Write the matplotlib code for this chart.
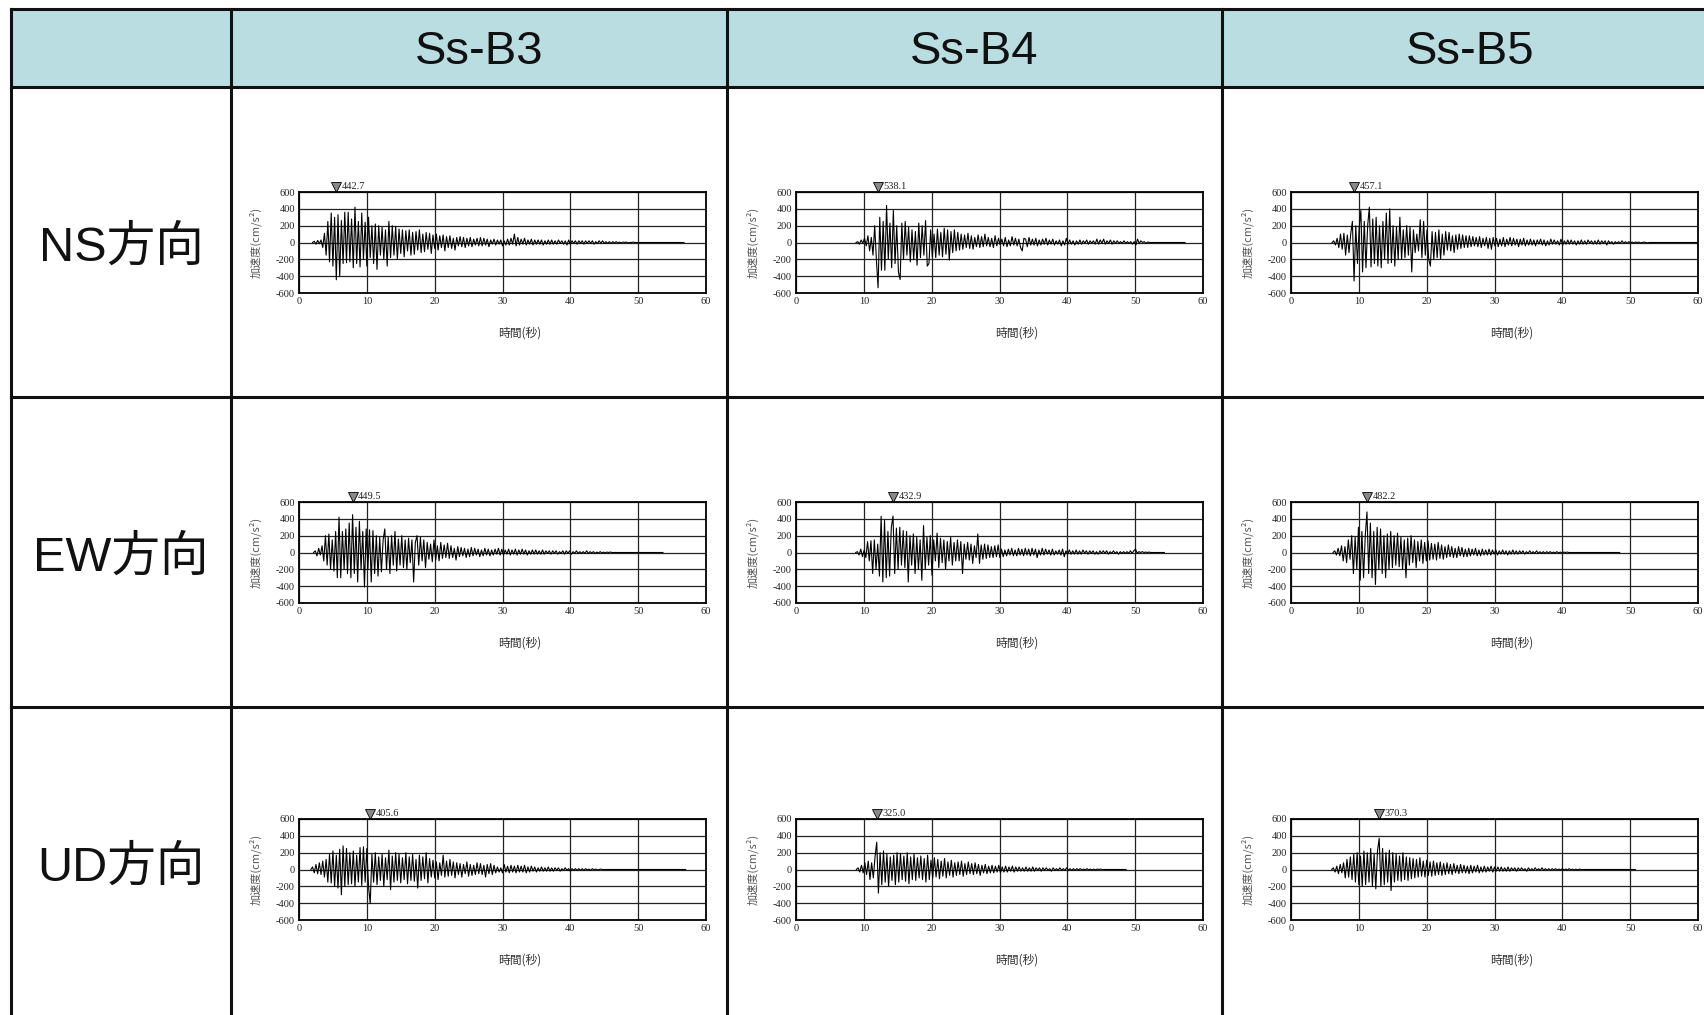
import matplotlib.pyplot as plt
import numpy as np
from matplotlib.patches import Rectangle
from matplotlib.transforms import blended_transform_factory

plt.rcParams['axes.unicode_minus'] = False

W, H = 1704, 1015
DT = 0.25  # sample step of the traced records (s)

cases = ["Ss-B3", "Ss-B4", "Ss-B5"]
directions = ["NS方向", "EW方向", "UD方向"]
xticks = [0, 10, 20, 30, 40, 50, 60]
yticks = [600, 400, 200, 0, -200, -400, -600]

# start time of each record (s), by direction then case
t0 = {
    "NS": [2.0, 8.85, 6.05],
    "EW": [2.15, 8.8, 6.2],
    "UD": [1.75, 8.9, 6.0],
}

# acceleration (cm/s2), one value every DT seconds
ns_b3 = [
    0, 15, -20, 25, -15, 30, -60, 110, -150, 250, -230, 350, -280, 300, -442.7, 330, -400, 260, -250, 360,
    -240, 360, -230, 280, -300, 420, -250, 250, -290, 350, -200, 240, -280, 300, -180, 200, -250, 220, -320, 200,
    -150, 180, -200, 150, -280, 250, -180, 200, -150, 190, -200, 160, -130, 150, -170, 140, -100, 150, -150, 120,
    -140, 130, -90, 150, -120, 100, -110, 120, -80, 110, -130, 90, -70, 100, -90, 80, -60, 90, -100, 70,
    -60, 80, -70, 50, -90, 60, -40, 70, -50, 60, -60, 50, -40, 60, -50, 40, -30, 50, -40, 60,
    -40, 50, -30, 40, -50, 30, -20, 40, -30, 30, -20, 30, -40, 20, -30, 40, -30, 50, -20, 100,
    -40, 60, -30, 40, -20, 50, -30, 30, -20, 40, -30, 30, -20, 30, -20, 30, -30, 20, -20, 30,
    -20, 30, -20, 20, -20, 30, -10, 20, -20, 20, -30, 30, -20, 20, -10, 20, -20, 20, -10, 20,
    -20, 20, -10, 20, -10, 20, -20, 10, -10, 20, -10, 20, -10, 10, -10, 10, -10, 10, -5, 10,
    -5, 5, -5, 5, 0, 5, -5, 0, 0, 5, 0, 0, 0, 0, 0, 0, 0, 0, 0, 0,
    0, 0, 0, 0, 0, 0, 0, 0, 0, 0, 0, 0, 0, 0, 0, 0, 0, 0, 0, 0,
]
ns_b4 = [
    0, 10, -20, 30, -10, 50, -40, 80, -100, 60, -150, 200, -200, -538.1, 300, -330, 250, -330, 440, -200,
    230, -300, 380, -250, 200, -350, -440, 230, -200, 250, -150, 180, -230, 150, -200, 130, -270, 230, -180, 200,
    -150, 260, -280, -250, 150, -170, 100, -180, 160, -150, 120, -170, 170, -140, 150, -210, 130, -120, 150, -100,
    120, -90, 100, -80, 90, -60, 110, -70, 80, -80, 60, -50, 90, -60, 70, -50, 100, -40, 60, -50,
    50, -60, 80, -40, 50, -30, 40, -40, 60, -50, 30, -40, 70, -30, 50, -40, 40, -60, -100, 50,
    40, -50, 60, -30, 40, -30, 50, -40, 30, -30, 40, -20, 50, -30, 30, -20, 40, -30, 20, -20,
    30, -40, 20, -30, 50, -20, 30, -20, 20, -30, 20, -20, 30, -20, 20, -10, 30, -20, 20, -10,
    20, -20, 40, -20, 30, -10, 40, -20, 20, -10, 30, -20, 20, -10, 20, -10, 10, -10, 20, -10,
    10, -10, 10, -20, 10, -30, 40, -10, 20, 0, 10, -10, 5, 0, 0, 0, 0, 0, 0, 0,
    0, 0, 0, 0, 0, 0, 0, 0, 0, 0, 0, 0, 0, 0, 0,
]
ns_b5 = [
    0, 20, -30, 50, -60, 100, -80, 110, -150, 90, -120, 100, 250, -457.1, 200, -250, 180, 380, -350, 250,
    -300, 200, 420, -290, 280, -250, 300, -280, 200, -300, 250, -200, 350, -250, 400, -240, 200, -280, 180, -200,
    300, -200, 150, -180, 200, -150, 180, -350, 150, -120, 100, -100, 270, -180, 250, -150, 150, -200, -280, 130,
    -200, 120, -180, 150, -200, 100, -150, 130, -90, 120, -100, 80, -120, 90, -80, 100, -70, 90, -60, 80,
    -60, 80, -50, 70, -40, 60, -50, 70, -60, 50, -40, 60, -70, 50, -80, 60, -40, 50, -50, 40,
    -40, 60, -50, 40, -30, 60, -40, 50, -30, 40, -50, 40, -30, 50, -40, 30, -30, 40, -30, 30,
    -40, 30, -20, 40, -30, 30, -40, 20, -30, 40, -20, 30, -20, 20, -30, 40, -30, 20, -20, 30,
    -20, 30, -20, 20, -30, 20, -20, 30, -20, 20, -20, 30, -10, 20, -20, 20, -20, 30, -20, 20,
    -10, 20, -30, 20, -10, 10, -20, 10, -10, 10, -10, 20, -10, 10, -10, 10, -5, 5, -5, 5,
    0, 5, -5, 0, 5, 0, -5, 0, 0, 0, 0, 0, 0, 0, 0, 0, 0, 0, 0, 0,
    0, 0, 0, 0, 0, 0, 0, 0, 0, 0, 0, 0, 0, 0, 0, 0, 0, 0, 0, 0,
]
ew_b3 = [
    0, 20, -40, 50, -30, 80, -100, 200, -150, 220, -200, 150, -220, 250, -300, 420, -300, 250, -200, 280,
    -250, 350, -300, 449.5, -250, 300, -350, 370, -200, 250, -410, 280, -200, 270, -350, 260, -250, 200, -280, 180,
    -230, 150, 280, -200, 180, -250, 200, -150, 250, -220, 160, -150, 200, -180, 150, -200, 170, -120, 150, -350,
    120, 200, -150, 180, -100, 150, -180, 120, -80, 100, -110, 150, -90, 80, -100, 120, -70, 90, -60, 110,
    -70, 80, -60, 50, -90, 70, -50, 60, -40, 50, -60, 40, -50, 60, -40, 50, -30, 40, -50, 30,
    -40, 50, -30, 40, -40, 30, -30, 40, -20, 50, -30, 40, -30, 30, -20, 40, -30, 30, -20, 40,
    -30, 30, -20, 40, -20, 30, -30, 20, -20, 30, -20, 30, -20, 20, -20, 30, -20, 20, -10, 20,
    -20, 20, -10, 20, -20, 10, -10, 20, -20, 20, -10, 20, -20, 10, -10, 20, -10, 10, -10, 10,
    -10, 20, -10, 10, -5, 10, -10, 5, -5, 10, -5, 5, -5, 5, 0, 5, 0, 0, 0, 0,
    0, 0, 0, 0, 0, 0, 0, 0, 0, 0, 0, 0, 0, 0, 0, 0, 0, 0, 0, 0,
    0, 0, 0, 0, 0, 0, 0,
]
ew_b4 = [
    0, 10, -30, 40, -50, 30, -60, 130, -100, 140, -250, 150, -200, 100, -280, 430, -350, 380, -300, 250,
    -280, 300, 432.9, -250, 290, -200, 300, -150, 260, -180, 250, -350, 200, -150, 220, -250, 180, -200, 150, -330,
    320, -200, 180, -150, 200, -270, 150, -100, 230, -180, 170, -120, 150, -200, 130, -100, 180, -150, 120, -100,
    150, -100, 130, -250, 100, -80, 120, -90, 100, -130, 80, -60, 220, -130, 90, -80, 100, -70, 90, -60,
    70, -60, 80, -50, 90, -60, 40, -50, 30, -40, 40, -30, 50, -40, 30, -40, 50, -30, 40, -40,
    50, -30, 40, -40, 50, -30, 40, -60, 30, -30, 50, -30, 40, -20, 30, -30, 40, -30, 20, -20,
    30, -30, 40, -50, 20, -20, 30, -20, 20, -20, 30, -20, 20, -20, 30, -10, 20, -20, 20, -10,
    20, -20, 10, -20, 20, -10, 20, -10, 20, -20, 10, -10, 20, -10, 10, -20, 10, -10, 10, -10,
    10, -10, 20, -10, 20, 40, -10, 10, 0, 10, 0, 5, 0, 5, 0, 0, 0, 0, 0, 0,
    0, 0, 0,
]
ew_b5 = [
    0, 20, -30, 50, -40, 80, -100, 70, -120, 150, -80, 200, -250, 180, -200, 300, -330, 250, -300, 200,
    482.2, -250, 350, -300, 250, -380, 300, -200, 280, -250, 200, -300, 220, -200, 250, -180, 200, -150, 230, -170,
    180, -200, 150, -300, 170, -150, 200, -120, 150, -180, 130, -100, 150, -130, 120, -100, 140, -90, 110, -80,
    100, -90, 120, -70, 90, -80, 70, -60, 90, -50, 70, -60, 50, -60, 70, -40, 60, -50, 40, -50,
    50, -40, 40, -30, 50, -40, 30, -40, 40, -30, 30, -30, 40, -30, 30, -20, 30, -30, 20, -20,
    30, -20, 20, -30, 20, -20, 30, -20, 20, -20, 20, -10, 20, -20, 10, -10, 20, -10, 10, -10,
    20, -10, 10, -10, 10, -10, 10, -5, 10, -5, 5, -5, 10, -5, 5, -5, 5, 0, 5, 0,
    0, 0, 0, 0, 0, 0, 0, 0, 0, 0, 0, 0, 0, 0, 0, 0, 0, 0, 0, 0,
    0, 0, 0, 0, 0, 0, 0, 0, 0, 0,
]
ud_b3 = [
    0, 30, -40, 60, -50, 80, -60, 100, -90, 120, -150, 180, -160, 220, -200, 170, -220, 240, -300, 280,
    -200, 250, -180, 200, -170, 220, -200, 170, -150, 260, -190, 270, -150, 250, -200, -405.6, 180, -150, 200, -180,
    150, -130, 180, -200, 140, -120, 230, -240, 160, -150, 200, -130, 180, -160, 140, -120, 200, -170, 150, -130,
    180, -140, 120, -220, 170, -130, 150, -110, 200, -160, 130, -90, 110, -100, 90, -120, 80, -70, 170, -90,
    100, -80, 120, -70, 90, -100, 80, -60, 70, -90, 60, -50, 90, -80, 60, -70, 50, -60, 80, -50,
    70, -60, 50, -90, 60, -50, 70, -60, 50, -40, 30, -30, 20, -40, 60, -30, 40, -40, 50, -30,
    40, -40, 50, -30, 40, -30, 50, -40, 30, -30, 40, -20, 30, -30, 20, -20, 30, -20, 20, -20,
    30, -20, 20, -20, 20, -10, 20, -20, 10, -10, 20, -10, 10, -20, 10, -10, 10, -10, 10, -10,
    10, -10, 10, -5, 5, -10, 10, -5, 5, -5, 0, 5, 0, 0, 0, 0, 0, 0, 0, 0,
    0, 0, 0, 0, 0, 0, 0, 0, 0, 0, 0, 0, 0, 0, 0, 0, 0, 0, 0, 0,
    0, 0, 0, 0, 0, 0, 0, 0, 0, 0, 0, 0, 0, 0, 0, 0, 0, 0, 0, 0,
    0, 0,
]
ud_b4 = [
    0, 20, -30, 50, -40, 80, -60, 100, -120, 80, -100, 150, 325.0, -280, 200, -180, 220, -150, 180, -200,
    150, -130, 170, -180, 200, -150, 190, -120, 160, -140, 200, -170, 150, -120, 180, -130, 140, -100, 160, -120,
    130, -150, 170, -120, 110, -100, 140, -90, 120, -110, 100, -80, 130, -100, 90, -70, 110, -90, 80, -70,
    90, -60, 100, -80, 70, -60, 90, -50, 70, -60, 80, -50, 60, -70, 50, -40, 60, -50, 40, -40,
    50, -40, 40, -30, 50, -40, 30, -30, 40, -30, 30, -20, 40, -30, 30, -20, 30, -20, 20, -20,
    30, -20, 20, -20, 30, -20, 20, -10, 20, -20, 20, -10, 20, -10, 10, -20, 20, -10, 10, -10,
    20, -10, 10, -10, 20, -10, 10, -10, 10, -10, 10, -5, 10, -5, 5, -5, 10, -5, 5, -5,
    5, -5, 5, 0, 5, 0, 0, 0, 0, 0, 0, 0, 0, 0, 0, 0, 0, 0, 0, 0,
]
ud_b5 = [
    0, 20, -30, 40, -50, 60, -40, 80, -100, 120, -90, 150, -120, 180, -150, 200, -180, 160, -200, 220,
    -180, 200, -150, 250, -200, 180, -230, 220, 370.3, -200, 250, -180, 200, -150, 230, -250, 200, -150, 180, -130,
    160, -140, 200, -120, 150, -130, 140, -110, 130, -100, 120, -90, 140, -80, 100, -90, 110, -70, 90, -80,
    100, -70, 80, -60, 90, -70, 70, -60, 80, -50, 60, -60, 70, -40, 50, -50, 60, -40, 50, -40,
    40, -50, 50, -40, 40, -30, 50, -40, 30, -30, 40, -30, 30, -20, 40, -30, 30, -20, 30, -20,
    30, -20, 20, -20, 30, -20, 20, -10, 20, -20, 20, -10, 20, -10, 10, -20, 20, -10, 10, -10,
    20, -10, 10, -10, 20, -10, 10, -10, 10, -10, 10, -5, 10, -5, 5, -5, 10, -5, 5, -5,
    10, -5, 5, -5, 5, -5, 5, 0, 0, 0, 0, 0, 0, 0, 0, 0, 0, 0, 0, 0,
    0, 0, 0, 0, 0, 0, 0, 0, 0, 0, 0, 0, 0, 0, 0, 0, 0, 0, 0, 0,
]

records = {
    "NS": [ns_b3, ns_b4, ns_b5],
    "EW": [ew_b3, ew_b4, ew_b5],
    "UD": [ud_b3, ud_b4, ud_b5],
}

# table layout, in pixels
tbl_left, tbl_right = 11, 1718
col_edges = [11, 231, 727, 1222, 1718]
row_edges = [9, 87, 397, 707, 1017]
header_color = "#badde2"

# plot area of each cell, in pixels
ax_left = [299, 796, 1291]
ax_top = [192, 502, 819]
ax_w, ax_h = 407, 101

fig = plt.figure(figsize=(W / 100, H / 100), dpi=100)

bg = fig.add_axes([0, 0, 1, 1])
bg.set_xlim(0, W)
bg.set_ylim(H, 0)
bg.axis("off")
bg.add_patch(Rectangle((tbl_left, row_edges[0]), tbl_right - tbl_left,
                       row_edges[1] - row_edges[0], facecolor=header_color, edgecolor="none"))
for y in row_edges:
    bg.plot([tbl_left, tbl_right], [y, y], color="#111111", lw=2.2, solid_capstyle="projecting")
for x in col_edges:
    bg.plot([x, x], [row_edges[0], row_edges[-1]], color="#111111", lw=2.2, solid_capstyle="projecting")

for j, case in enumerate(cases):
    cx = (col_edges[j + 1] + col_edges[j + 2]) / 2
    cy = (row_edges[0] + row_edges[1]) / 2 + 4
    bg.text(cx, cy, case, ha="center", va="center", fontsize=34,
            family=["Liberation Sans", "Noto Sans CJK JP"], color="#111111")

for i, d in enumerate(directions):
    cx = (col_edges[0] + col_edges[1]) / 2
    cy = (row_edges[i + 1] + row_edges[i + 2]) / 2 + 6
    bg.text(cx, cy, d, ha="center", va="center", fontsize=35,
            family=["Liberation Sans", "Noto Sans CJK JP"], color="#111111")

serif = ["Liberation Serif", "Noto Sans CJK JP"]
cjk = ["Noto Sans CJK JP", "DejaVu Sans"]

for i, key in enumerate(["NS", "EW", "UD"]):
    for j in range(3):
        vals = np.array(records[key][j], dtype=float)
        t = t0[key][j] + DT * np.arange(len(vals))

        ax = fig.add_axes([ax_left[j] / W, 1 - (ax_top[i] + ax_h) / H, ax_w / W, ax_h / H])
        ax.plot(t, vals, color="black", lw=0.8)
        ax.set_xlim(0, 60)
        ax.set_ylim(-600, 600)
        ax.set_xticks(xticks)
        ax.set_yticks(yticks)
        ax.set_xticklabels([str(v) for v in xticks], family=serif, fontsize=7.5, color="#222222")
        ax.set_yticklabels([str(v) for v in yticks], family=serif, fontsize=7.5, color="#222222")
        ax.tick_params(length=0, pad=3)
        ax.grid(True, color="#222222", lw=0.9)
        ax.set_axisbelow(True)
        for s in ax.spines.values():
            s.set_linewidth(1.3)
            s.set_color("black")

        ax.text(-0.108, 0.5, "加速度(cm/s²)", rotation=90, ha="center", va="center",
                transform=ax.transAxes, fontsize=8, color="#555555", family=cjk)
        ax.text(0.543, -0.40, "時間(秒)", ha="center", va="center",
                transform=ax.transAxes, fontsize=8.5, color="#333333", family=cjk)

        k = int(np.argmax(np.abs(vals)))
        peak_t, peak_v = t[k], abs(vals[k])
        trans = blended_transform_factory(ax.transData, ax.transAxes)
        ax.plot([peak_t], [1.05], marker="v", markersize=6.5, color="#888888",
                markeredgecolor="black", markeredgewidth=0.6, transform=trans, clip_on=False)
        ax.annotate(f"{peak_v:.1f}", xy=(peak_t, 1.05), xycoords=trans, xytext=(4, 0),
                    textcoords="offset points", ha="left", va="center",
                    fontsize=7.5, family=serif, color="#222222")

fig.savefig("out.png", dpi=100)
